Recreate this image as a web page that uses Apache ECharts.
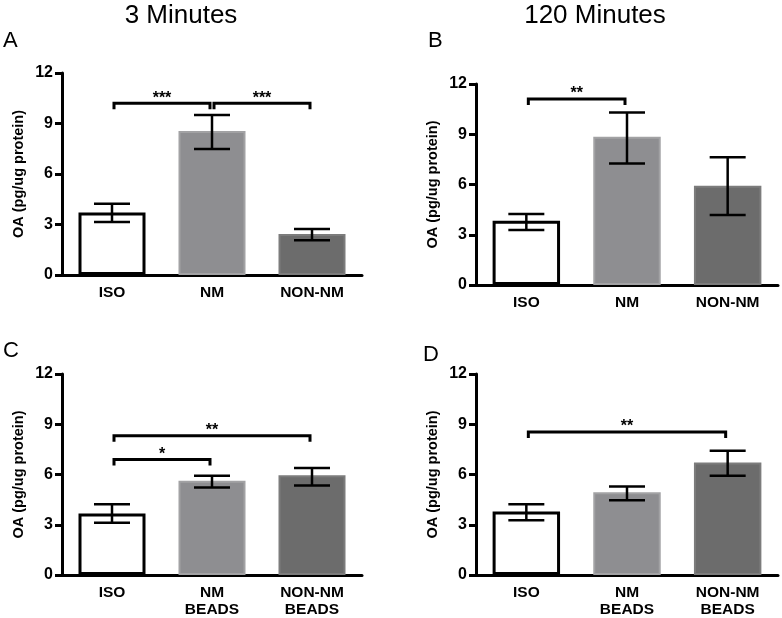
<!DOCTYPE html>
<html>
<head>
<meta charset="utf-8">
<script src="https://cdn.jsdelivr.net/npm/echarts@6/dist/echarts.min.js"></script>
<style>html,body{margin:0;padding:0;background:#fff}#c{width:782px;height:618px}</style>
</head>
<body>
<div id="c"></div>
<script>
// ---- data ----
const categoriesTop = ['ISO', 'NM', 'NON-NM'];
const categoriesBottom = ['ISO', 'NM\nBEADS', 'NON-NM\nBEADS'];
const yTicks = [0, 3, 6, 9, 12];

const meanA = [3.72, 8.55, 2.44];
const lowA  = [3.15, 7.48, 2.06];
const highA = [4.24, 9.50, 2.74];

const meanB = [3.83, 8.85, 5.93];
const lowB  = [3.29, 7.26, 4.18];
const highB = [4.24, 10.30, 7.62];

const meanC = [3.67, 5.62, 5.95];
const lowC  = [3.12, 5.22, 5.34];
const highC = [4.22, 5.92, 6.39];

const meanD = [3.79, 4.94, 6.71];
const lowD  = [3.27, 4.46, 5.92];
const highD = [4.23, 5.28, 7.42];

// brackets: [fromCategory, toCategory, level]
const bracketsA = [[0, 1, 10.2], [1, 2, 10.2]];
const bracketLabelsA = ['***', '***'];
const bracketsB = [[0, 1, 11.1]];
const bracketLabelsB = ['**'];
const bracketsC = [[0, 1, 6.9], [0, 2, 8.32]];
const bracketLabelsC = ['*', '**'];
const bracketsD = [[0, 2, 8.54]];
const bracketLabelsD = ['**'];

const panelTitles = ['3 Minutes', '120 Minutes'];
const panelLetters = ['A', 'B', 'C', 'D'];
const yAxisName = 'OA (pg/ug protein)';

// ---- styling ----
const FONT = 'Liberation Sans, Arial, sans-serif';
const barStyles = [
  { color: '#ffffff', borderColor: '#000000', borderWidth: 3 },
  { color: '#8e8e91', borderColor: '#a2a2a4', borderWidth: 2 },
  { color: '#6c6c6c', borderColor: '#7c7c7c', borderWidth: 2 }
];

const grids = [
  { left: 62, right: 420, top: 73, bottom: 343 },
  { left: 476, right: 4, top: 84, bottom: 333 },
  { left: 62, right: 420, top: 374, bottom: 42 },
  { left: 476, right: 4, top: 374, bottom: 42 }
];

const panels = [
  { cats: categoriesTop, mean: meanA, low: lowA, high: highA, br: bracketsA, bl: bracketLabelsA },
  { cats: categoriesTop, mean: meanB, low: lowB, high: highB, br: bracketsB, bl: bracketLabelsB },
  { cats: categoriesBottom, mean: meanC, low: lowC, high: highC, br: bracketsC, bl: bracketLabelsC },
  { cats: categoriesBottom, mean: meanD, low: lowD, high: highD, br: bracketsD, bl: bracketLabelsD }
];

const xAxes = [], yAxes = [], series = [];
panels.forEach((p, i) => {
  xAxes.push({
    type: 'category', gridIndex: i, data: p.cats,
    axisLine: { lineStyle: { color: '#000', width: 3 } },
    axisTick: { alignWithLabel: true, length: 6, lineStyle: { color: '#000', width: 3 } },
    axisLabel: { color: '#000', fontWeight: 'bold', fontSize: 15.5, fontFamily: FONT, margin: 9, lineHeight: 17, interval: 0 }
  });
  yAxes.push({
    type: 'value', gridIndex: i, min: yTicks[0], max: yTicks[yTicks.length - 1], interval: 3,
    name: yAxisName, nameLocation: 'middle', nameGap: 36, nameRotate: 90,
    nameTextStyle: { color: '#000', fontWeight: 'bold', fontSize: 14.5, fontFamily: FONT },
    axisLine: { show: true, lineStyle: { color: '#000', width: 3 } },
    axisTick: { show: true, length: 7, lineStyle: { color: '#000', width: 3 } },
    axisLabel: { color: '#000', fontWeight: 'bold', fontSize: 16, fontFamily: FONT, margin: 9 },
    splitLine: { show: false }
  });
  series.push({
    type: 'bar', xAxisIndex: i, yAxisIndex: i, barWidth: '67%',
    data: p.mean.map((v, k) => ({ value: v, itemStyle: barStyles[k] })),
    z: 2, silent: true
  });
  series.push({
    type: 'custom', xAxisIndex: i, yAxisIndex: i, z: 5, silent: true,
    encode: { x: 0, y: [1, 2] },
    data: p.mean.map((v, k) => [k, p.low[k], p.high[k]]),
    renderItem: function (params, api) {
      const c = api.value(0);
      const lo = api.coord([c, api.value(1)]);
      const hi = api.coord([c, api.value(2)]);
      const hw = 18;
      const st = { stroke: '#000', lineWidth: 2.5 };
      return {
        type: 'group', children: [
          { type: 'line', shape: { x1: lo[0], y1: lo[1], x2: hi[0], y2: hi[1] }, style: st },
          { type: 'line', shape: { x1: lo[0] - hw, y1: lo[1], x2: lo[0] + hw, y2: lo[1] }, style: st },
          { type: 'line', shape: { x1: hi[0] - hw, y1: hi[1], x2: hi[0] + hw, y2: hi[1] }, style: st }
        ]
      };
    }
  });
  series.push({
    type: 'custom', xAxisIndex: i, yAxisIndex: i, z: 6, silent: true,
    encode: { x: 0, y: 2 },
    data: p.br,
    renderItem: function (params, api) {
      const a = api.coord([api.value(0), api.value(2)]);
      const b = api.coord([api.value(1), api.value(2)]);
      const x1 = a[0] + 2, x2 = b[0] - 2, y = a[1], d = 6;
      return {
        type: 'group', children: [
          { type: 'polyline', shape: { points: [[x1, y + d], [x1, y], [x2, y], [x2, y + d]] },
            style: { stroke: '#000', lineWidth: 3, fill: null } },
          { type: 'text', x: (x1 + x2) / 2, y: y - 5,
            style: { text: p.bl[params.dataIndex], fill: '#000', font: 'bold 16px ' + FONT, align: 'center', verticalAlign: 'middle' } }
        ]
      };
    }
  });
});

const graphic = [
  { type: 'text', x: 181, y: 16, style: { text: panelTitles[0], font: '26px ' + FONT, fill: '#000', align: 'center', verticalAlign: 'middle' } },
  { type: 'text', x: 595, y: 16, style: { text: panelTitles[1], font: '26px ' + FONT, fill: '#000', align: 'center', verticalAlign: 'middle' } },
  { type: 'text', x: 3, y: 41, style: { text: panelLetters[0], font: '22px ' + FONT, fill: '#000', verticalAlign: 'middle' } },
  { type: 'text', x: 428, y: 41, style: { text: panelLetters[1], font: '22px ' + FONT, fill: '#000', verticalAlign: 'middle' } },
  { type: 'text', x: 3, y: 351, style: { text: panelLetters[2], font: '22px ' + FONT, fill: '#000', verticalAlign: 'middle' } },
  { type: 'text', x: 423, y: 355, style: { text: panelLetters[3], font: '22px ' + FONT, fill: '#000', verticalAlign: 'middle' } }
];

const chart = echarts.init(document.getElementById('c'), null, { renderer: 'canvas' });
chart.setOption({
  animation: false,
  backgroundColor: '#fff',
  grid: grids,
  xAxis: xAxes,
  yAxis: yAxes,
  series: series,
  graphic: graphic
});
</script>
</body>
</html>
